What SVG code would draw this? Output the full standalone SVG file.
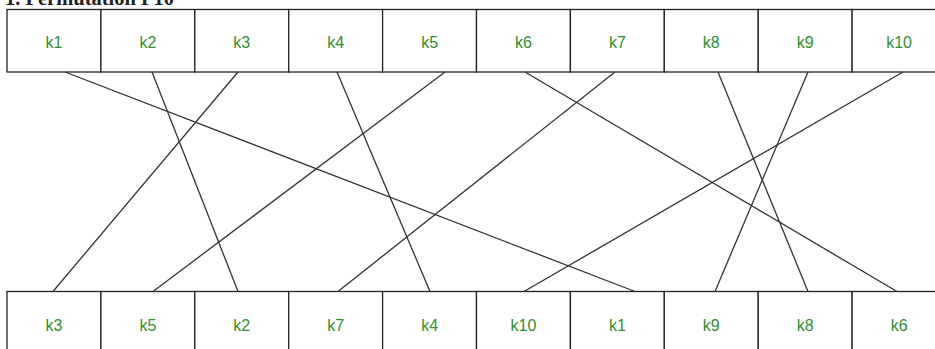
<svg xmlns="http://www.w3.org/2000/svg" width="935" height="349" viewBox="0 0 935 349">
<style>
.box{fill:#fff;stroke:#222;stroke-width:1.3}
.lbl{font-family:"Liberation Sans",Arial,sans-serif;font-size:16px;fill:#2f8f2f;text-anchor:middle}
.title{font-family:"Liberation Serif","Times New Roman",serif;font-size:20.5px;font-weight:bold;fill:#222}
.wire{stroke:#333;stroke-width:1.3;fill:none}
</style>
<rect width="935" height="349" fill="#fff"/>
<text class="title" x="5" y="5">1. Permutation P10</text>
<g id="top-row">
<g id="t1"><rect class="box" x="7" y="9.5" width="93.9" height="62.5"/><text class="lbl" x="54" y="47.5">k1</text></g>
<g id="t2"><rect class="box" x="100.9" y="9.5" width="93.9" height="62.5"/><text class="lbl" x="147.9" y="47.5">k2</text></g>
<g id="t3"><rect class="box" x="194.8" y="9.5" width="93.9" height="62.5"/><text class="lbl" x="241.8" y="47.5">k3</text></g>
<g id="t4"><rect class="box" x="288.7" y="9.5" width="93.9" height="62.5"/><text class="lbl" x="335.7" y="47.5">k4</text></g>
<g id="t5"><rect class="box" x="382.6" y="9.5" width="93.9" height="62.5"/><text class="lbl" x="429.6" y="47.5">k5</text></g>
<g id="t6"><rect class="box" x="476.5" y="9.5" width="93.9" height="62.5"/><text class="lbl" x="523.5" y="47.5">k6</text></g>
<g id="t7"><rect class="box" x="570.4" y="9.5" width="93.9" height="62.5"/><text class="lbl" x="617.4" y="47.5">k7</text></g>
<g id="t8"><rect class="box" x="664.3" y="9.5" width="93.9" height="62.5"/><text class="lbl" x="711.3" y="47.5">k8</text></g>
<g id="t9"><rect class="box" x="758.2" y="9.5" width="93.9" height="62.5"/><text class="lbl" x="805.2" y="47.5">k9</text></g>
<g id="t10"><rect class="box" x="852.1" y="9.5" width="93.9" height="62.5"/><text class="lbl" x="899.1" y="47.5">k10</text></g>
</g>
<g id="bottom-row">
<g id="b1"><rect class="box" x="7" y="291.5" width="93.9" height="70"/><text class="lbl" x="54" y="331">k3</text></g>
<g id="b2"><rect class="box" x="100.9" y="291.5" width="93.9" height="70"/><text class="lbl" x="147.9" y="331">k5</text></g>
<g id="b3"><rect class="box" x="194.8" y="291.5" width="93.9" height="70"/><text class="lbl" x="241.8" y="331">k2</text></g>
<g id="b4"><rect class="box" x="288.7" y="291.5" width="93.9" height="70"/><text class="lbl" x="335.7" y="331">k7</text></g>
<g id="b5"><rect class="box" x="382.6" y="291.5" width="93.9" height="70"/><text class="lbl" x="429.6" y="331">k4</text></g>
<g id="b6"><rect class="box" x="476.5" y="291.5" width="93.9" height="70"/><text class="lbl" x="523.5" y="331">k10</text></g>
<g id="b7"><rect class="box" x="570.4" y="291.5" width="93.9" height="70"/><text class="lbl" x="617.4" y="331">k1</text></g>
<g id="b8"><rect class="box" x="664.3" y="291.5" width="93.9" height="70"/><text class="lbl" x="711.3" y="331">k9</text></g>
<g id="b9"><rect class="box" x="758.2" y="291.5" width="93.9" height="70"/><text class="lbl" x="805.2" y="331">k8</text></g>
<g id="b10"><rect class="box" x="852.1" y="291.5" width="93.9" height="70"/><text class="lbl" x="899.1" y="331">k6</text></g>
</g>
<g id="connectors">
<line class="wire" x1="65" y1="72" x2="635" y2="291.5"/>
<line class="wire" x1="152" y1="72" x2="238" y2="291.5"/>
<line class="wire" x1="238" y1="72" x2="53" y2="291.5"/>
<line class="wire" x1="337" y1="72" x2="430" y2="291.5"/>
<line class="wire" x1="445" y1="72" x2="153" y2="291.5"/>
<line class="wire" x1="525" y1="72" x2="897" y2="291.5"/>
<line class="wire" x1="615" y1="72" x2="338" y2="291.5"/>
<line class="wire" x1="718" y1="72" x2="808" y2="291.5"/>
<line class="wire" x1="808" y1="72" x2="715" y2="291.5"/>
<line class="wire" x1="903" y1="72" x2="524" y2="291.5"/>
</g>
</svg>
